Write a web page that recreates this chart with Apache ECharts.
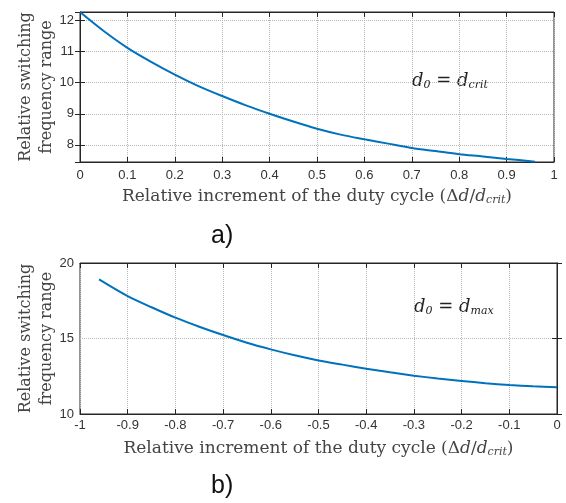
<!DOCTYPE html>
<html>
<head>
<meta charset="utf-8">
<script src="https://cdn.jsdelivr.net/npm/echarts@6/dist/echarts.min.js"></script>
<style>
html, body { margin: 0; padding: 0; background: #fff; }
#main { width: 566px; height: 503px; }
</style>
</head>
<body>
<div id="main"></div>
<script>
// a) d0 = dcrit
var xA = [0, 0.05, 0.1, 0.15, 0.2, 0.25, 0.3, 0.35, 0.4, 0.45, 0.5, 0.55, 0.6, 0.65, 0.7, 0.75, 0.8, 0.85, 0.9, 0.96];
var yA = [12.27, 11.66, 11.12, 10.67, 10.26, 9.89, 9.57, 9.27, 9.0, 8.75, 8.52, 8.33, 8.18, 8.04, 7.90, 7.80, 7.70, 7.63, 7.55, 7.46];
// b) d0 = dmax
var xB = [-0.96, -0.9, -0.85, -0.8, -0.75, -0.7, -0.65, -0.6, -0.55, -0.5, -0.45, -0.4, -0.35, -0.3, -0.25, -0.2, -0.15, -0.1, -0.05, 0];
var yB = [18.92, 17.81, 17.07, 16.38, 15.78, 15.23, 14.72, 14.28, 13.89, 13.55, 13.27, 13.0, 12.76, 12.54, 12.35, 12.19, 12.04, 11.92, 11.83, 11.77];

var myChart = echarts.init(document.getElementById('main'));

var serif = '"DejaVu Serif", "Liberation Serif", serif';
var sans = '"Liberation Sans", Arial, sans-serif';
var gridLine = { show: true, lineStyle: { color: '#b8b8b8', type: 'dotted', width: 1 } };
var tickIn = { show: true, inside: true, length: 5, lineStyle: { color: '#262626' } };
var axisLn = { show: true, lineStyle: { color: '#262626', width: 1 } };
var lbl = { color: '#333', fontFamily: sans, fontSize: 13 };
var intLabel = function (v) { return Math.abs(v - Math.round(v)) < 1e-9 ? String(Math.round(v)) : ''; };
var xName = 'Relative increment of the duty cycle (\u0394{i|d}/{i|d}{s|crit})';
var nameStyle = {
	color: '#444', fontFamily: serif, fontSize: 17,
	rich: {
		i: { fontStyle: 'italic', fontFamily: serif, fontSize: 17, color: '#444' },
		s: { fontStyle: 'italic', fontFamily: serif, fontSize: 11, color: '#444', padding: [8, 0, 0, 0] }
	}
};
var yName = 'Relative switching\nfrequency range';
var yNameStyle = { color: '#444', fontFamily: serif, fontSize: 16, lineHeight: 21 };

function pairs(xs, ys) {
	var out = [];
	for (var i = 0; i < xs.length; i++) out.push([xs[i], ys[i]]);
	return out;
}

option = {
	animation: false,
	title: [
		{ text: 'a)', left: 206, top: 219, textStyle: { fontFamily: sans, fontSize: 25, fontWeight: 'normal', color: '#111' } },
		{ text: 'b)', left: 206, top: 469, textStyle: { fontFamily: sans, fontSize: 25, fontWeight: 'normal', color: '#111' } }
	],
	grid: [
		{ left: 80, top: 12, width: 474, height: 150, show: true, borderColor: '#262626', borderWidth: 1 },
		{ left: 80, top: 263, width: 477, height: 151, show: true, borderColor: '#262626', borderWidth: 1 }
	],
	xAxis: [
		{ gridIndex: 0, type: 'value', min: 0, max: 1, interval: 0.1, position: 'bottom',
		  axisLine: axisLn, axisTick: tickIn, splitLine: gridLine,
		  axisLabel: Object.assign({ margin: 7 }, lbl),
		  name: xName, nameLocation: 'middle', nameGap: 25, nameTextStyle: nameStyle },
		{ gridIndex: 0, type: 'value', min: 0, max: 1, interval: 0.1, position: 'top',
		  axisLine: axisLn, axisTick: tickIn, splitLine: { show: false }, axisLabel: { show: false } },
		{ gridIndex: 1, type: 'value', min: -1, max: 0, interval: 0.1, position: 'bottom',
		  axisLine: axisLn, axisTick: tickIn, splitLine: gridLine,
		  axisLabel: Object.assign({ margin: 5, formatter: function (v) { return String(Math.round(v * 10) / 10); } }, lbl),
		  name: xName, nameLocation: 'middle', nameGap: 25, nameTextStyle: nameStyle },
		{ gridIndex: 1, type: 'value', min: -1, max: 0, interval: 0.1, position: 'top',
		  axisLine: axisLn, axisTick: tickIn, splitLine: { show: false }, axisLabel: { show: false } }
	],
	yAxis: [
		{ gridIndex: 0, type: 'value', min: 7.45, max: 12.27, position: 'left',
		  axisLine: axisLn, axisTick: tickIn, splitLine: gridLine,
		  axisLabel: Object.assign({ formatter: intLabel, margin: 6, showMinLabel: false, showMaxLabel: false }, lbl),
		  name: yName, nameLocation: 'middle', nameGap: 23, nameRotate: 90, nameMoveOverlap: false, nameTextStyle: yNameStyle },
		{ gridIndex: 0, type: 'value', min: 7.45, max: 12.27, position: 'right',
		  axisLine: axisLn, axisTick: tickIn, splitLine: { show: false }, axisLabel: { show: false } },
		{ gridIndex: 1, type: 'value', min: 10, max: 20, interval: 5, position: 'left',
		  axisLine: axisLn, axisTick: tickIn, splitLine: gridLine,
		  axisLabel: Object.assign({ margin: 6 }, lbl),
		  name: yName, nameLocation: 'middle', nameGap: 23, nameRotate: 90, nameMoveOverlap: false, nameTextStyle: yNameStyle },
		{ gridIndex: 1, type: 'value', min: 10, max: 20, interval: 5, position: 'right',
		  axisLine: axisLn, axisTick: tickIn, splitLine: { show: false }, axisLabel: { show: false } }
	],
	graphic: [
		{ type: 'text', left: 412, top: 72, style: {
			text: '{i|d}{s|0} = {i|d}{s|crit}', fill: '#222', font: '18px ' + serif,
			rich: { i: { fontStyle: 'italic', fontFamily: serif, fontSize: 18, fill: '#222' },
			        s: { fontStyle: 'italic', fontFamily: serif, fontSize: 11, fill: '#222', padding: [9, 0, 0, 0] } } } },
		{ type: 'text', left: 414, top: 298, style: {
			text: '{i|d}{s|0} = {i|d}{s|max}', fill: '#222', font: '18px ' + serif,
			rich: { i: { fontStyle: 'italic', fontFamily: serif, fontSize: 18, fill: '#222' },
			        s: { fontStyle: 'italic', fontFamily: serif, fontSize: 11, fill: '#222', padding: [9, 0, 0, 0] } } } }
	],
	series: [
		{ type: 'line', xAxisIndex: 0, yAxisIndex: 0, data: pairs(xA, yA), smooth: 0.3, showSymbol: false,
		  lineStyle: { color: '#0072BD', width: 2 } },
		{ type: 'line', xAxisIndex: 2, yAxisIndex: 2, data: pairs(xB, yB), smooth: 0.3, showSymbol: false,
		  lineStyle: { color: '#0072BD', width: 2 } }
	]
};
myChart.setOption(option);
window.onresize = myChart.resize;
</script>
</body>
</html>
